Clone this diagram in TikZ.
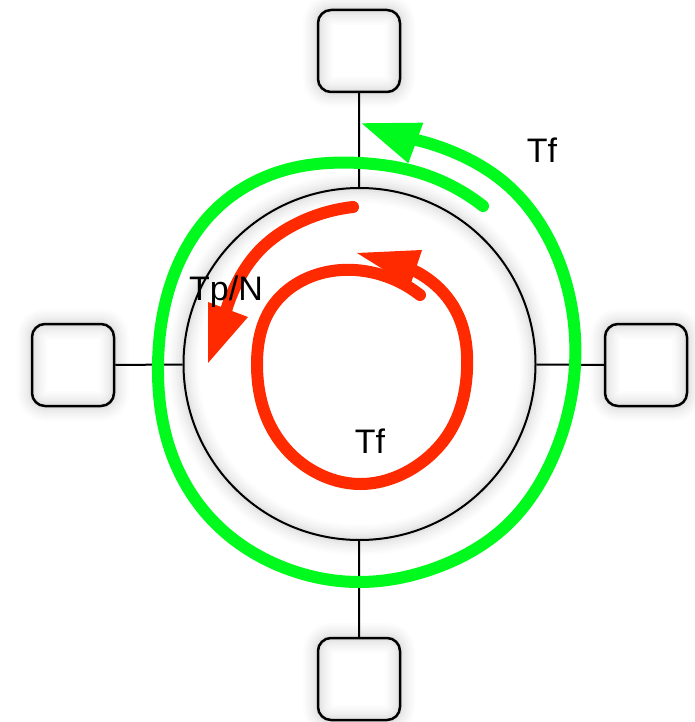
\documentclass[tikz,border=0pt]{standalone}
\usepackage{fontspec}
\setmainfont{Liberation Sans}
\usetikzlibrary{hobby}
\definecolor{arrred}{RGB}{255,42,0}
\definecolor{arrgreen}{RGB}{0,250,30}
\begin{document}
\begin{tikzpicture}[x=1pt,y=-1pt,
  glow/.style={preaction={draw=black,draw opacity=0.012,line width=30pt},
               preaction={draw=black,draw opacity=0.014,line width=25pt},
               preaction={draw=black,draw opacity=0.016,line width=20pt},
               preaction={draw=black,draw opacity=0.018,line width=15pt},
               preaction={draw=black,draw opacity=0.02,line width=10pt},
               preaction={draw=black,draw opacity=0.022,line width=6pt}},
  box/.style={draw=black, line width=2.5pt, rounded corners=13pt, minimum width=82pt, minimum height=82pt, inner sep=0pt, glow},
  ring/.style={draw=black, line width=2pt, circle, minimum size=352pt, inner sep=0pt, glow},
  link/.style={draw=black, line width=2pt},
  flow/.style={line width=12pt, line cap=round, line join=round},
  lbl/.style={font=\fontsize{34}{40}\selectfont, anchor=base, inner sep=0pt}]
\useasboundingbox (0,0) rectangle (695,722);
\node[ring] (ring) at (359.5,364) {};
\node[box] (nt) at (359,51) {};
\node[box] (nb) at (359,679) {};
\node[box] (nl) at (73,365) {};
\node[box] (nr) at (646,365) {};
\draw[link] (nt) -- (ring);
\draw[link] (nb) -- (ring);
\draw[link] (nl) -- (ring);
\draw[link] (nr) -- (ring);
% green outer spiral
\draw[flow, draw=arrgreen] (483,206) to[curve through={(420,173) (360,163) (285,170) (215,210) (172,280) (158,365) (172,455) (215,523) (285,568) (359,582) (438,567) (505,527) (554,455) (575,365) (568,290) (545,232) (505,183) (460,155)}] (402,137);
\fill[arrgreen] (361.7,123.3) -- (423.3,122.7) -- (408.3,163.3) -- cycle;
% red Tp/N arrow
\draw[flow, draw=arrred] (353,207) to[curve through={(300,222) (258,252) (236,285)}] (224,318);
\fill[arrred] (208,302) -- (248,317) -- (208,363) -- cycle;
% red inner loop
\draw[flow, draw=arrred] (420,295) to[curve through={(370,272) (310,277) (270,310) (257,365) (270,425) (315,472) (360,484) (415,467) (452,428) (467,370) (458,315) (432,282)}] (400,265);
\fill[arrred] (357,253) -- (422,250) -- (410,286) -- cycle;
% labels
\node[lbl] (tf1) at (542,163) {Tf};
\node[lbl] (tpn) at (226,300) {Tp/N};
\node[lbl] (tf2) at (370,453) {Tf};
\end{tikzpicture}
\end{document}
